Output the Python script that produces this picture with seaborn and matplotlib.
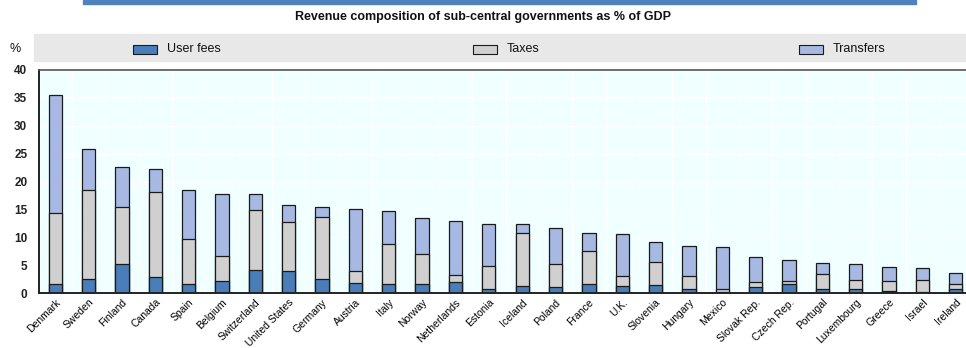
import matplotlib
matplotlib.use("Agg")
import matplotlib.pyplot as plt
from matplotlib.patches import Rectangle
import numpy as np
import pandas as pd
import seaborn as sns

countries = ["Denmark", "Sweden", "Finland", "Canada", "Spain", "Belgium",
             "Switzerland", "United States", "Germany", "Austria", "Italy",
             "Norway", "Netherlands", "Estonia", "Iceland", "Poland", "France",
             "U.K.", "Slovenia", "Hungary", "Mexico", "Slovak Rep.", "Czech Rep.",
             "Portugal", "Luxembourg", "Greece", "Israel", "Ireland"]

# cumulative tops (user fees, user fees + taxes, total)
user_fees = [1.7, 2.5, 5.2, 2.9, 1.7, 2.1, 4.2, 3.9, 2.5, 1.8, 1.6, 1.7, 1.9, 0.8,
             1.3, 1.1, 1.7, 1.3, 1.4, 0.8, 0.1, 1.0, 1.7, 0.8, 0.8, 0.3, 0.1, 0.8]
fees_taxes = [14.3, 18.5, 15.5, 18.1, 9.6, 6.7, 14.9, 12.8, 13.7, 3.9, 8.7, 7.0, 3.2, 4.9,
              10.8, 5.2, 7.5, 3.0, 5.5, 3.1, 0.8, 2.0, 2.2, 3.4, 2.3, 2.2, 2.3, 1.6]
total = [35.6, 25.8, 22.6, 22.3, 18.5, 17.8, 17.8, 15.8, 15.4, 15.1, 14.7, 13.4, 13.0, 12.3,
         12.3, 11.7, 10.7, 10.6, 9.1, 8.5, 8.3, 6.4, 6.0, 5.4, 5.2, 4.6, 4.5, 3.6]

series = ["User fees", "Taxes", "Transfers"]
colors = ["#4a7ebb", "#d0d0d0", "#a7b9e3"]

df = pd.DataFrame({"country": countries, "User fees": user_fees,
                   "Taxes": fees_taxes, "Transfers": total})

sns.set_style("white")
plt.rcParams["font.family"] = ["Liberation Sans Narrow", "Liberation Sans", "DejaVu Sans"]

W, H = 966, 348
fig = plt.figure(figsize=(W / 100, H / 100), dpi=100)

# axes placed in pixel terms: x from 38.5 to ~972 (right end off canvas), y 70..293
left, right, top, bottom = 38.5, 972.5, 70, 293
ax = fig.add_axes([left / W, 1 - bottom / H, (right - left) / W, (bottom - top) / H])
ax.set_facecolor("#f0ffff")

# draw stacks from back (total) to front (user fees)
for name, col in zip(reversed(series), reversed(colors)):
    sns.barplot(data=df, x="country", y=name, color=col, width=0.4,
                edgecolor="#1a1a1a", linewidth=0.9, ax=ax, saturation=1)

ax.set_xlim(-0.5, len(countries) - 0.5)
ax.set_ylim(0, 40)
ax.set_yticks(np.arange(0, 41, 5))
ax.set_xlabel("")
ax.set_ylabel("")
ax.set_xticks(np.arange(len(countries)) + 0.5, minor=True)
ax.grid(True, axis="y", color="white", linewidth=1)
ax.grid(True, axis="x", which="minor", color="white", linewidth=1)
ax.set_axisbelow(True)

ax.tick_params(axis="x", which="major", length=0, pad=3)
ax.tick_params(axis="x", which="minor", direction="in", length=3, width=0.8, color="#333333")
ax.tick_params(axis="y", direction="in", length=4, width=0.8, color="#333333",
               labelsize=8.5, pad=8)
ax.set_xticklabels(countries, rotation=45, ha="right", rotation_mode="anchor",
                   fontsize=7.5, color="black")
for lab in ax.get_yticklabels():
    lab.set_fontweight("bold")
    lab.set_color("#222222")

for side in ["left", "bottom"]:
    ax.spines[side].set_color("#222222")
    ax.spines[side].set_linewidth(1.4)
ax.spines["top"].set_color("#555555")
ax.spines["top"].set_linewidth(1.2)
ax.spines["right"].set_visible(False)

# top rule, title and legend band
fig.patches.append(Rectangle((83 / W, 1 - 4 / H), (916 - 83) / W, 4 / H,
                             transform=fig.transFigure, color="#4f81bd", zorder=0))
fig.text(483 / W, 1 - 17 / H, "Revenue composition of sub-central governments as % of GDP",
         ha="center", va="center", fontsize=9, fontweight="bold", color="#111111")
fig.patches.append(Rectangle((34 / W, 1 - 61 / H), (W - 34) / W, 27 / H,
                             transform=fig.transFigure, color="#e8e8e8", zorder=0))
fig.text(9 / W, 1 - 49 / H, "%", ha="left", va="center", fontsize=9, color="#111111")

patch_x = [133, 473, 799]
for px, name, col in zip(patch_x, series, colors):
    fig.patches.append(Rectangle((px / W, 1 - 54 / H), 24 / W, 9 / H,
                                 transform=fig.transFigure, facecolor=col,
                                 edgecolor="#1a1a1a", linewidth=0.8, zorder=1))
    fig.text((px + 34) / W, 1 - 49 / H, name, ha="left", va="center",
             fontsize=9, color="#111111")

fig.savefig("out.png", dpi=100)
